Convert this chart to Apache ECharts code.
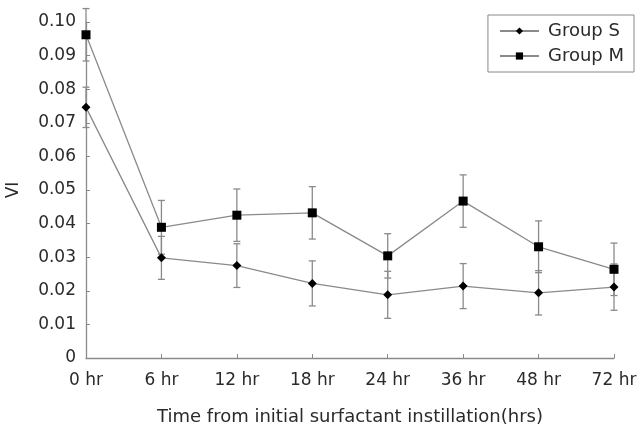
<!DOCTYPE html>
<html><head><meta charset="utf-8">
<script src="https://cdn.jsdelivr.net/npm/echarts@6/dist/echarts.min.js"></script>
<style>html,body{margin:0;padding:0;background:#fff}#c{width:640px;height:428px}</style>
</head><body><div id="c"></div>
<script>
const categories = ['0 hr','6 hr','12 hr','18 hr','24 hr','36 hr','48 hr','72 hr'];
const groupS = [0.0746, 0.0298, 0.0275, 0.0222, 0.0188, 0.0214, 0.0194, 0.0211];
const groupSErr = [0.0060, 0.0064, 0.0065, 0.0067, 0.0070, 0.0067, 0.0066, 0.0069];
const groupM = [0.0962, 0.0389, 0.0425, 0.0432, 0.0304, 0.0467, 0.0331, 0.0264];
const groupMErr = [0.0078, 0.0080, 0.0078, 0.0078, 0.0066, 0.0078, 0.0077, 0.0078];

function errData(vals, errs){ return vals.map((v,i)=>[i, v-errs[i], v+errs[i]]); }
function renderErr(params, api){
  const x = api.value(0);
  const lo = api.coord([x, api.value(1)]);
  const hi = api.coord([x, api.value(2)]);
  const w = 3.5;
  const st = {stroke:'#8a8a8a', lineWidth:1.3};
  return {type:'group', children:[
    {type:'line', shape:{x1:lo[0],y1:lo[1],x2:hi[0],y2:hi[1]}, style:st},
    {type:'line', shape:{x1:lo[0]-w,y1:lo[1],x2:lo[0]+w,y2:lo[1]}, style:st},
    {type:'line', shape:{x1:hi[0]-w,y1:hi[1],x2:hi[0]+w,y2:hi[1]}, style:st}
  ]};
}
const font = 'DejaVu Sans, sans-serif';
const txt = '#2a2a2a';
const chart = echarts.init(document.getElementById('c'), null, {renderer:'canvas'});
chart.setOption({
  animation:false,
  backgroundColor:'#fff',
  grid:{left:86, right:26, top:22, bottom:70, outerBoundsMode:'none', containLabel:false},
  legend:{
    right:6, top:15, orient:'vertical', itemGap:7, itemWidth:39, itemHeight:9,
    padding:[7,10,7,11], borderColor:'#888', borderWidth:1,
    textStyle:{fontFamily:font, fontSize:18, color:txt, padding:[0,0,0,4]},
    data:['Group S','Group M']
  },
  xAxis:{
    type:'category', data:categories, boundaryGap:false,
    name:'Time from initial surfactant instillation(hrs)', nameLocation:'middle', nameGap:50,
    nameTextStyle:{fontFamily:font, fontSize:18, color:txt},
    axisLine:{lineStyle:{color:'#8a8a8a', width:1.3}},
    axisTick:{inside:true, length:4, alignWithLabel:true, lineStyle:{color:'#8a8a8a'}},
    axisLabel:{fontFamily:font, fontSize:17, color:txt, margin:14}
  },
  yAxis:{
    type:'value', min:0, max:0.1, interval:0.01,
    name:'VI', nameLocation:'middle', nameGap:64, nameRotate:90,
    nameTextStyle:{fontFamily:font, fontSize:17, color:txt},
    axisLine:{show:true, lineStyle:{color:'#8a8a8a', width:1.3}},
    axisTick:{show:true, inside:true, length:4, lineStyle:{color:'#8a8a8a'}},
    splitLine:{show:false},
    axisLabel:{fontFamily:font, fontSize:17, color:txt, margin:10,
      formatter:v=> v===0 ? '0' : v.toFixed(2)}
  },
  series:[
    {type:'custom', name:'errS', renderItem:renderErr, data:errData(groupS, groupSErr), clip:false, z:1, silent:true, encode:{x:0,y:[1,2]}},
    {type:'custom', name:'errM', renderItem:renderErr, data:errData(groupM, groupMErr), clip:false, z:1, silent:true, encode:{x:0,y:[1,2]}},
    {type:'line', name:'Group S', data:groupS, symbol:'diamond', symbolSize:9, showAllSymbol:true, z:3,
      lineStyle:{color:'#8a8a8a', width:1.3}, itemStyle:{color:'#000'}},
    {type:'line', name:'Group M', data:groupM, symbol:'rect', symbolSize:9, showAllSymbol:true, z:3,
      lineStyle:{color:'#8a8a8a', width:1.3}, itemStyle:{color:'#000'}}
  ]
});
</script></body></html>
